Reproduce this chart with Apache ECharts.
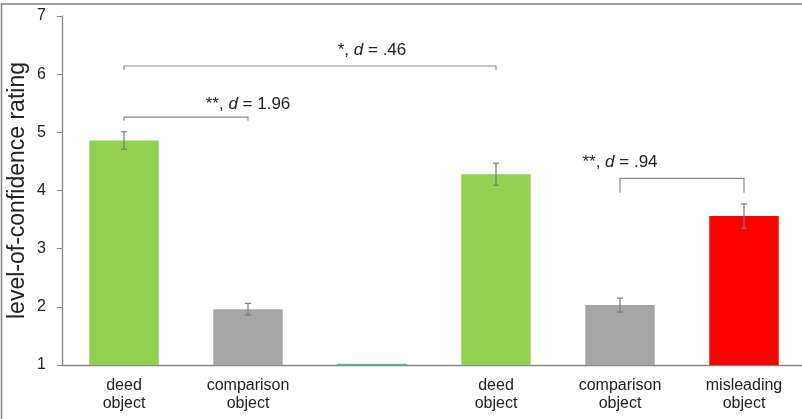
<!DOCTYPE html>
<html>
<head>
<meta charset="utf-8">
<script src="https://cdn.jsdelivr.net/npm/echarts@6/dist/echarts.min.js"></script>
<style>html,body{margin:0;padding:0;background:#fff;}#c{width:802px;height:419px;}</style>
</head>
<body>
<div id="c"></div>
<script>
const categories = ['deed\nobject', 'comparison\nobject', '', 'deed\nobject', 'comparison\nobject', 'misleading\nobject'];
const values = [4.86, 1.96, 1.02, 4.28, 2.03, 3.56];
const errors = [0.15, 0.10, 0, 0.19, 0.12, 0.21];
const barColors = ['#92d050', '#a6a6a6', '#4cc9a8', '#92d050', '#a6a6a6', '#ff0000'];
const yTicks = [1, 2, 3, 4, 5, 6, 7];
// brackets: [x1, x2, yLine, yDrop, textX, textY]
const brackets = [
  [0, 3, 6.14, 6.07, 1.53, 6.41],
  [0, 1, 5.26, 5.20, 0.65, 5.48],
  [3.97, 5, 4.21, 3.96, 4.44, 4.49]
];
const bracketStars = ['*', '**', '**'];
const bracketD = ['.46', '1.96', '.94'];

const chart = echarts.init(document.getElementById('c'), null, {renderer: 'canvas'});
const font = 'Liberation Sans, Arial, sans-serif';

chart.setOption({
  animation: false,
  backgroundColor: '#fff',
  grid: {left: 62, top: 16, width: 744, bottom: 54, containLabel: false, outerBoundsMode: 'none'},
  graphic: [{
    type: 'rect', shape: {x: 1.5, y: 4, width: 806, height: 420},
    style: {fill: 'none', stroke: '#7f7f7f', lineWidth: 1.5}, silent: true
  }],
  xAxis: {
    type: 'category', data: categories,
    axisLine: {lineStyle: {color: '#868686', width: 1.3}},
    axisTick: {show: false},
    axisLabel: {color: '#222', fontFamily: font, fontSize: 16, lineHeight: 18, margin: 12, interval: 0}
  },
  yAxis: {
    type: 'value', min: yTicks[0], max: yTicks[yTicks.length - 1], interval: 1,
    name: 'level-of-confidence rating', nameLocation: 'middle', nameGap: 33, nameMoveOverlap: false,
    nameTextStyle: {color: '#222', fontFamily: font, fontSize: 23},
    axisLine: {show: true, lineStyle: {color: '#868686', width: 1.3}},
    axisTick: {show: true, length: 5, lineStyle: {color: '#868686'}},
    axisLabel: {color: '#222', fontFamily: font, fontSize: 16, margin: 16},
    splitLine: {show: false}
  },
  series: [
    {
      type: 'bar', barWidth: '56%',
      data: values.map((v, i) => ({value: v, itemStyle: {color: barColors[i]}}))
    },
    {
      type: 'custom', z: 5,
      data: values.map((v, i) => [i, v, errors[i]]),
      renderItem: function (params, api) {
        const e = api.value(2);
        if (!e) return null;
        const x = api.value(0), v = api.value(1);
        const top = api.coord([x, v + e]);
        const bot = api.coord([x, v - e]);
        const hw = 3;
        const st = {stroke: '#7a7a7a', lineWidth: 1.2};
        return {type: 'group', children: [
          {type: 'line', shape: {x1: top[0], y1: top[1], x2: bot[0], y2: bot[1]}, style: st},
          {type: 'line', shape: {x1: top[0] - hw, y1: top[1], x2: top[0] + hw, y2: top[1]}, style: st},
          {type: 'line', shape: {x1: bot[0] - hw, y1: bot[1], x2: bot[0] + hw, y2: bot[1]}, style: st}
        ]};
      }
    },
    {
      type: 'custom', z: 6,
      data: brackets.map((b, i) => b.concat([i])),
      renderItem: function (params, api) {
        const x1 = api.value(0), x2 = api.value(1), y = api.value(2), yd = api.value(3);
        const tx = api.value(4), ty = api.value(5), idx = api.value(6);
        const p1 = api.coord([x1, yd]);
        const p2 = api.coord([x1, y]);
        const p3 = api.coord([x2, y]);
        const p4 = api.coord([x2, yd]);
        const tp = api.coord([tx, ty]);
        return {type: 'group', children: [
          {type: 'polyline', shape: {points: [p1, p2, p3, p4]},
            style: {stroke: '#8c8c8c', lineWidth: 1.2, fill: 'none'}},
          {type: 'text', x: tp[0], y: tp[1], style: {
            text: bracketStars[idx] + ', {i|d} = ' + bracketD[idx],
            align: 'center', verticalAlign: 'middle',
            fill: '#222', font: '17px ' + font,
            rich: {i: {fontStyle: 'italic', fontSize: 17, fontFamily: font, fill: '#222'}}
          }}
        ]};
      }
    }
  ]
});
</script>
</body>
</html>
